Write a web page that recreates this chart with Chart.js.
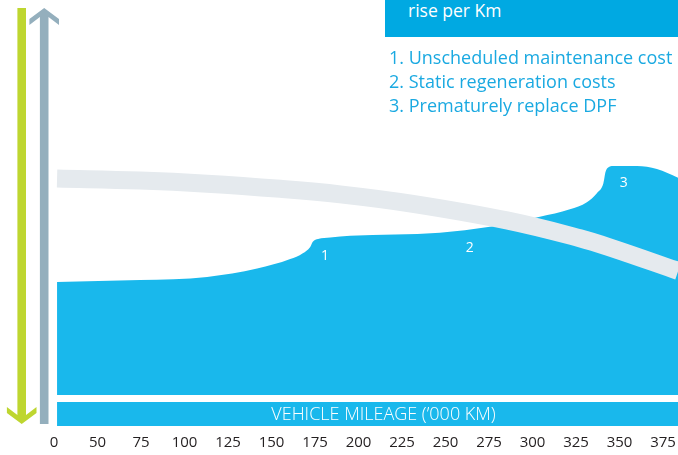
<!DOCTYPE html>
<html>
<head>
<meta charset="utf-8">
<script src="https://cdn.jsdelivr.net/npm/chart.js@4/dist/chart.umd.min.js"></script>
<style>
    html, body { margin: 0; padding: 0; background: #fff; }
    #wrap { position: relative; width: 678px; height: 455px; overflow: hidden; font-family: "Open Sans", sans-serif; }
    #costChart { position: absolute; left: 0; top: 0; }
    #note { position: absolute; left: 385px; top: 0; width: 293px; height: 37px; background: #00a9e2; color: #fff; }
    #note span { position: absolute; left: 23px; top: -1px; font-size: 17.5px; line-height: 23px; white-space: nowrap; }
    #legend { position: absolute; left: 389px; top: 45px; color: #1aa9e1; font-size: 18px; line-height: 24px; white-space: nowrap; }
</style>
</head>
<body>
<div id="wrap">
    <canvas id="costChart" width="678" height="455"></canvas>
    <div id="note"><span>rise per Km</span></div>
    <div id="legend"></div>
</div>
<script>
// mileage tick labels ('000 km)
var tickLabels = ['0', '50', '75', '100', '125', '150', '175', '200', '225', '250', '275', '300', '325', '350', '375'];

// running cost area (x in tick steps)
var costX = [0.07, 1.98, 3.52, 4.67, 5.43, 5.72, 5.89, 5.95, 6.07, 6.35, 6.81, 8.87, 10.02, 11.17, 11.86, 12.25, 12.48, 12.63, 12.68, 12.74, 12.85, 13.40, 13.86, 14.35];
var costY = [28.6, 29.1, 29.9, 32.0, 34.4, 35.9, 37.5, 38.8, 39.5, 39.9, 40.3, 41.1, 42.6, 45.1, 47.0, 48.8, 51.1, 53.6, 56.5, 57.6, 58.0, 58.0, 57.2, 55.0];

// vehicle value band
var valueX = [0.07, 1.98, 3.52, 5.20, 6.58, 8.25, 10.41, 12.09, 12.85, 14.35];
var valueY = [54.8, 54.3, 53.5, 52.2, 50.8, 48.4, 44.2, 39.7, 37.1, 31.4];

// numbered cost events
var eventLabels = ['1', '2', '3'];
var eventX = [6.23, 9.56, 13.10];
var eventY = [35.3, 37.1, 53.6];

var legendItems = ['1. Unscheduled maintenance cost', '2. Static regeneration costs', '3. Prematurely replace DPF'];
var axisTitle = 'VEHICLE MILEAGE (\u2019000 KM)';

function toPoints(xs, ys) {
    return xs.map(function (x, i) { return { x: x, y: ys[i] }; });
}

function arrow(ctx, cx, from, tip, color) {
    var w = 4.3, h = 14.8, a = 11, b = 17, n = 9;
    var d = tip > from ? 1 : -1;
    ctx.fillStyle = color;
    ctx.beginPath();
    ctx.moveTo(cx - w, from);
    ctx.lineTo(cx - w, tip - d * n);
    ctx.lineTo(cx - h, tip - d * b);
    ctx.lineTo(cx - h, tip - d * a);
    ctx.lineTo(cx, tip);
    ctx.lineTo(cx + h, tip - d * a);
    ctx.lineTo(cx + h, tip - d * b);
    ctx.lineTo(cx + w, tip - d * n);
    ctx.lineTo(cx + w, from);
    ctx.closePath();
    ctx.fill();
}

var decor = {
    id: 'decor',
    afterDraw: function (chart) {
        var ctx = chart.ctx;
        var area = chart.chartArea;
        var xs = chart.scales.x, ys = chart.scales.y;
        ctx.save();

        arrow(ctx, 21.7, 8, 424, '#bed630');
        arrow(ctx, 44.2, 424, 8, '#94afbd');

        // mileage bar under the area
        var left = chart.getDatasetMeta(1).data[0].x;
        var top = area.bottom + 7;
        ctx.fillStyle = '#19b8ec';
        ctx.fillRect(left, top, area.right - left, 24);
        ctx.fillStyle = '#fff';
        ctx.font = '300 18px "Open Sans"';
        ctx.textAlign = 'center';
        ctx.textBaseline = 'middle';
        ctx.fillText(axisTitle, (left + area.right) / 2 + 16, top + 12.5);

        ctx.font = '14px "Open Sans"';
        eventLabels.forEach(function (l, i) {
            ctx.fillText(l, xs.getPixelForValue(eventX[i]), ys.getPixelForValue(eventY[i]));
        });
        ctx.restore();
    }
};

document.addEventListener('DOMContentLoaded', function () {
    document.getElementById('legend').innerHTML = legendItems.map(function (s) {
        return '<div>' + s + '</div>';
    }).join('');

    var ctx = document.getElementById('costChart').getContext('2d');
    var costChart = new Chart(ctx, {
        type: 'line',
        data: {
            datasets: [{
                label: 'Vehicle value',
                data: toPoints(valueX, valueY),
                borderColor: '#e5eaee',
                borderWidth: 18,
                fill: false,
                pointRadius: 0,
                tension: 0.4
            }, {
                label: 'Running cost',
                data: toPoints(costX, costY),
                backgroundColor: '#19b8ec',
                borderWidth: 0,
                fill: 'origin',
                pointRadius: 0,
                cubicInterpolationMode: 'monotone'
            }]
        },
        options: {
            responsive: false,
            animation: false,
            events: [],
            layout: { padding: { left: 40, right: 0, top: 0, bottom: 3 } },
            plugins: {
                legend: { display: false },
                tooltip: { enabled: false }
            },
            scales: {
                x: {
                    type: 'linear',
                    min: -0.322,
                    max: 14.345,
                    afterBuildTicks: function (axis) {
                        axis.ticks = tickLabels.map(function (l, i) { return { value: i }; });
                    },
                    afterFit: function (axis) {
                        axis.height = 57;
                        axis.paddingLeft = 0;
                        axis.paddingRight = 0;
                    },
                    grid: { display: false, drawTicks: false, tickLength: 0 },
                    border: { display: false },
                    ticks: {
                        autoSkip: false,
                        maxRotation: 0,
                        padding: 39,
                        color: '#231f20',
                        font: { family: 'Open Sans', size: 15 },
                        callback: function (value) { return tickLabels[value]; }
                    }
                },
                y: {
                    display: false,
                    min: 0,
                    max: 100
                }
            }
        },
        plugins: [decor]
    });
});
</script>
</body>
</html>
